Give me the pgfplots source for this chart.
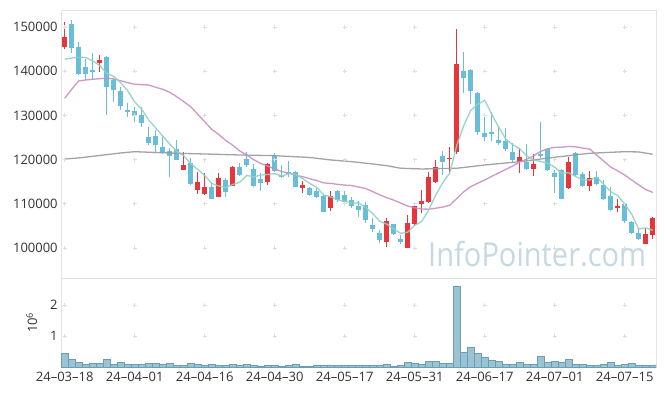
\documentclass[border=0pt]{standalone}
\usepackage{fontspec}
\setmainfont{Open Sans}
\usepackage{graphicx}
\usepackage{pgfplots}
\usepackage{pgfplotstable}
\pgfplotsset{compat=1.18}
\definecolor{upred}{HTML}{E8353B}
\definecolor{downblue}{HTML}{68BED8}
\definecolor{maf}{HTML}{8ED1C1}
\definecolor{mam}{HTML}{C88DC3}
\definecolor{mas}{HTML}{999999}
\definecolor{volfill}{HTML}{9CC3D2}
\definecolor{voledge}{HTML}{6A9EB4}
\definecolor{frame}{HTML}{E3E3E3}
\definecolor{txt}{HTML}{333333}
\definecolor{wm}{HTML}{C5D8E3}
\definecolor{cross}{HTML}{DDDDDD}

\pgfplotstableread{
i o h l c
0 145500 151100 145100 147700
5 141900 143700 139900 142500
17 117700 121800 117600 118800
19 113100 117300 112200 115000
20 112200 116900 112000 113900
22 111600 116900 111500 115800
24 114100 118600 114100 118300
29 115000 119200 114300 119000
34 113500 115200 112400 114300
38 109100 113000 108400 111800
46 101400 106700 100200 106200
49 100100 107400 99900 105600
50 105400 109400 105000 109400
51 109900 113100 107900 110600
52 110400 117300 110100 116000
53 115000 119900 114600 118300
55 120100 122900 116900 120400
56 121800 149600 121200 141600
65 119400 122600 116900 120600
67 117800 121300 116300 119000
72 113500 120500 113300 119500
75 114100 117400 112900 115800
79 109000 111000 108100 109400
83 100900 104500 100900 103200
84 103000 107100 102000 106700
}\upT

\pgfplotstableread{
i o h l c
1 150700 151600 144100 145300
2 145400 146500 139100 139300
3 140900 142800 138000 139400
4 140300 144200 138000 139900
6 143300 143400 130000 136500
7 138000 138400 133100 135800
8 135500 136500 131200 132200
9 131200 132700 129600 130800
10 131100 132000 128600 129900
11 130100 132000 127400 128200
12 125200 127400 123300 123700
13 125300 126700 121400 123300
14 122900 125200 121200 121600
15 122000 122600 116100 120800
16 122400 124400 119800 119900
18 119300 120300 114300 114400
21 113700 115000 111000 111100
23 115400 115900 111600 112700
25 118400 119200 116300 116500
26 120100 121800 118300 118800
27 117800 118900 113700 114100
28 115600 116900 112900 114800
30 121100 121400 117100 117500
31 116500 118800 115800 116000
32 117300 119700 116100 116800
33 117300 117500 113900 113900
35 113500 113900 111800 112000
36 113000 113500 111200 111600
37 111800 111900 108200 108200
39 112800 113100 110500 110900
40 112000 112800 109700 110500
41 110900 111600 109000 109400
42 109500 110700 107100 108500
43 109700 110300 105600 106300
44 105200 106700 103700 104300
45 103300 104100 101100 101700
47 105400 105400 102900 103100
48 102100 103000 100800 101300
54 120900 122000 116500 119500
57 140100 144300 135000 138500
58 140300 140400 132600 135600
59 135100 135400 125600 126300
60 126000 130600 124100 125200
61 126300 130800 124100 125800
62 124400 127500 123300 123800
63 124100 127100 122000 122300
64 121800 123700 119500 119800
66 119500 123500 117700 117800
68 121300 128600 120300 120800
69 122300 122600 117500 117700
70 117000 117700 112500 116100
71 117700 117800 111000 111000
73 121600 121800 116300 116500
74 116800 117300 113900 114000
76 116000 117500 114300 114400
77 114300 115400 110900 111100
78 111800 113700 108400 108600
80 110000 110100 105600 106000
81 105800 106000 103100 103300
82 103500 104500 101800 102000
}\downT

\pgfplotstableread{
i v
0 142700
1 143000
2 143150
3 143100
4 142320
5 141280
6 139520
7 138820
8 137380
9 135560
10 133040
11 131380
12 128960
13 127180
14 125340
15 123520
16 121860
17 120880
18 119100
19 117780
20 116400
21 114640
22 114040
23 113700
24 114360
25 114880
26 116420
27 116080
28 116500
29 116640
30 116840
31 116280
32 116820
33 116640
34 115700
35 114600
36 113720
37 112000
38 111580
39 110900
40 110600
41 110160
42 110220
43 109120
44 107800
45 106040
46 105400
47 104320
48 103320
49 103580
50 105120
51 106000
52 108580
53 111980
54 114760
55 116960
56 123160
57 127660
58 131120
59 132480
60 133440
61 130280
62 127340
63 124680
64 123380
65 122460
66 120860
67 119900
68 119600
69 119180
70 118280
71 116920
72 117020
73 116160
74 115420
75 115360
76 116040
77 114360
78 112780
79 111860
80 109900
81 107680
82 104300
83 104560
84 104020
}\maF

\pgfplotstableread{
i v
0 133870
1 135910
2 137790
3 138010
4 138170
5 138310
6 138400
7 138240
8 137850
9 137400
10 137040
11 136950
12 136880
13 136360
14 135910
15 135230
16 134230
17 133100
18 131970
19 130250
20 128560
21 126850
22 125675
23 124340
24 123260
25 121960
26 121075
27 119990
28 119120
29 118530
30 117910
31 117300
32 116955
33 116485
34 116120
35 115680
36 115265
37 114735
38 114605
39 114400
40 114230
41 114145
42 113780
43 113460
44 112760
45 112020
46 111390
47 110840
48 110165
49 109495
50 109090
51 108820
52 108780
53 109000
54 109260
55 109680
56 111180
57 112695
58 113885
59 114655
60 115390
61 116210
62 116975
63 117775
64 118550
65 119495
66 120075
67 120870
68 121845
69 122450
70 122785
71 122805
72 122980
73 122890
74 122615
75 122385
76 121025
77 119655
78 118305
79 117460
80 116500
81 115375
82 114285
83 113230
84 112575
}\maM

\pgfplotstableread{
i v
0 120140
2 120370
5 120930
8 121500
10 121790
13 121610
16 121430
20 121270
25 121040
30 120890
35 120480
38 119920
41 119530
44 119010
46 118630
48 118040
51 117880
56 118040
60 118780
65 119530
70 120530
75 121430
80 121790
82 121730
84 121200
}\maS

\pgfplotstableread{
i v
0 0.45
1 0.26
2 0.16
3 0.10
4 0.13
5 0.13
6 0.26
7 0.10
8 0.16
9 0.10
10 0.10
11 0.10
12 0.13
13 0.13
14 0.11
15 0.13
16 0.06
17 0.06
18 0.13
19 0.10
20 0.06
21 0.10
22 0.06
23 0.06
24 0.10
25 0.06
26 0.10
27 0.06
28 0.03
29 0.06
30 0.06
31 0.03
32 0.06
33 0.10
34 0.03
35 0.03
36 0.06
37 0.06
38 0.06
39 0.06
40 0.06
41 0.06
42 0.06
43 0.06
44 0.06
45 0.06
46 0.10
47 0.03
48 0.06
49 0.17
50 0.13
51 0.10
52 0.20
53 0.20
54 0.13
55 0.13
56 2.61
57 0.48
58 0.64
59 0.45
60 0.32
61 0.23
62 0.20
63 0.10
64 0.10
65 0.17
66 0.10
67 0.10
68 0.36
69 0.17
70 0.20
71 0.17
72 0.26
73 0.10
74 0.10
75 0.06
76 0.06
77 0.10
78 0.17
79 0.06
80 0.10
81 0.13
82 0.06
83 0.06
84 0.06
}\volT

\begin{document}
\begin{tikzpicture}
\useasboundingbox[fill=white] (-61.2pt,-118pt) rectangle (603.8pt,278pt);
\pgfplotsset{
  every axis/.append style={
    scale only axis, width=595pt,
    xmin=-0.5, xmax=84.5,
    axis line style={draw=frame, line width=0.8pt},
    major tick length=0pt,
    xtick={0,10,...,80},
    tick label style={font=\fontsize{13}{15}\selectfont, text=txt},
    /pgf/number format/assume math mode=true,
    clip=true,
  }
}
\begin{axis}[
  at={(0,0)}, anchor=south west, height=268pt,
  ymin=93214, ymax=153845,
  ytick={100000,110000,...,150000},
  xticklabels={},
  scaled y ticks=false,
  yticklabel style={/pgf/number format/1000 sep={}, /pgf/number format/fixed},
]
\node[anchor=base east, inner sep=0pt, text=wm, font=\fontsize{33}{33}\selectfont] at (axis cs:83.1,95780) {\scalebox{0.88}[1]{InfoPointer.com}};
\addplot[only marks, mark=+, mark size=2pt, color=cross, mark options={line width=0.6pt}] coordinates {
(0,100000)(10,100000)(20,100000)(30,100000)(40,100000)(50,100000)(60,100000)(70,100000)(80,100000)
(0,110000)(10,110000)(20,110000)(30,110000)(40,110000)(50,110000)(60,110000)(70,110000)(80,110000)
(0,120000)(10,120000)(20,120000)(30,120000)(40,120000)(50,120000)(60,120000)(70,120000)(80,120000)
(0,130000)(10,130000)(20,130000)(30,130000)(40,130000)(50,130000)(60,130000)(70,130000)(80,130000)
(0,140000)(10,140000)(20,140000)(30,140000)(40,140000)(50,140000)(60,140000)(70,140000)(80,140000)
(0,150000)(10,150000)(20,150000)(30,150000)(40,150000)(50,150000)(60,150000)(70,150000)(80,150000)
};
% wicks
\addplot[draw=none, error bars/.cd, y dir=both, y explicit, error mark=none,
  error bar style={draw=upred, line width=1pt}]
  table[x=i, y expr={(\thisrow{h}+\thisrow{l})/2}, y error expr={(\thisrow{h}-\thisrow{l})/2}] {\upT};
\addplot[draw=none, error bars/.cd, y dir=both, y explicit, error mark=none,
  error bar style={draw=downblue, line width=1pt}]
  table[x=i, y expr={(\thisrow{h}+\thisrow{l})/2}, y error expr={(\thisrow{h}-\thisrow{l})/2}] {\downT};
% bodies
\addplot[draw=none, error bars/.cd, y dir=both, y explicit, error mark=none,
  error bar style={draw=upred, line width=5pt}]
  table[x=i, y expr={(\thisrow{o}+\thisrow{c})/2}, y error expr={abs(\thisrow{c}-\thisrow{o})/2}] {\upT};
\addplot[draw=none, error bars/.cd, y dir=both, y explicit, error mark=none,
  error bar style={draw=downblue, line width=5pt}]
  table[x=i, y expr={(\thisrow{o}+\thisrow{c})/2}, y error expr={abs(\thisrow{c}-\thisrow{o})/2}] {\downT};
% moving averages
\addplot[mas, line width=1.3pt, opacity=0.9] table[x=i, y=v] {\maS};
\addplot[mam, line width=1.3pt, opacity=0.9] table[x=i, y=v] {\maM};
\addplot[maf, line width=1.3pt, opacity=0.9] table[x=i, y=v] {\maF};
\end{axis}
\begin{axis}[
  at={(0,0)}, anchor=north west, height=89.3pt,
  ymin=0, ymax=2.87,
  ytick={1,2},
  xticklabels={24--03--18,24--04--01,24--04--16,24--04--30,24--05--17,24--05--31,24--06--17,24--07--01,24--07--15},
  xticklabel style={yshift=-1pt},
  ylabel={10\textsuperscript{6}},
  every axis y label/.style={at={(axis description cs:0,0.5)}, xshift=-29.5pt, rotate=90, anchor=center, font=\fontsize{13}{15}\selectfont, text=txt},
]
\addplot[only marks, mark=+, mark size=2pt, color=cross, mark options={line width=0.6pt}] coordinates {
(0,1)(10,1)(20,1)(30,1)(40,1)(50,1)(60,1)(70,1)(80,1)
(0,2)(10,2)(20,2)(30,2)(40,2)(50,2)(60,2)(70,2)(80,2)
};
\addplot[ybar, bar width=1, fill=volfill, draw=voledge, line width=0.6pt] table[x=i, y=v] {\volT};
\end{axis}
\end{tikzpicture}
\end{document}
